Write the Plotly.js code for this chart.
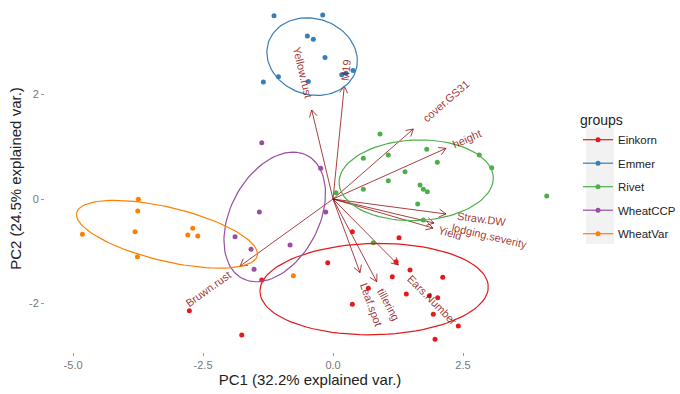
<!DOCTYPE html>
<html><head><meta charset="utf-8">
<script src="https://cdn.plot.ly/plotly-3.0.1.min.js"></script>
<style>html,body{margin:0;padding:0;background:#fff}</style>
</head><body><div id="chart" style="width:680px;height:394px"></div>
<script>
// ---- data ----
const groups = ['Einkorn','Emmer','Rivet','WheatCCP','WheatVar'];
const groupColors = ['#E41A1C','#377EB8','#4DAF4A','#984EA3','#FF7F00'];

const einkornPC1 = [-2.763,-1.756,-1.371,-0.102,0.371,1.269,1.212,1.481,1.140,2.110,0.679,1.410,1.852,2.013,0.371,1.929,2.410,1.962];
const einkornPC2 = [-2.140,-2.605,-1.552,-1.220,-0.626,-0.741,-1.201,-1.360,-1.489,-1.500,-1.711,-1.820,-1.852,-1.891,-2.017,-2.209,-2.433,-2.688];

const emmerPC1 = [-1.135,-0.198,-0.494,-0.379,-0.154,-1.340,-1.050,-0.475,0.167,0.250,0.385];
const emmerPC2 = [3.510,3.525,3.120,3.060,2.710,2.240,2.340,2.250,2.380,2.410,2.460];

const rivetPC1 = [0.904,0.583,1.063,1.802,2.006,2.813,3.052,1.385,1.063,0.583,1.673,1.737,1.813,1.629,4.110,0.058,1.737,0.775];
const rivetPC2 = [1.245,0.780,0.843,0.952,0.703,0.843,0.600,0.523,0.350,0.186,0.268,0.186,0.140,-0.096,0.057,0.120,-0.400,-0.837];

const wheatCCPPC1 = [-1.371,-0.237,-1.417,-0.140,-1.885,-1.577,-0.827,-1.519];
const wheatCCPPC2 = [1.079,0.588,-0.249,-0.249,-0.722,-0.964,-0.881,-1.347];

const wheatVarPC1 = [-3.744,-3.756,-4.821,-3.808,-2.698,-2.794,-2.602,-3.763,-0.763];
const wheatVarPC2 = [-0.006,-0.230,-0.676,-0.626,-0.561,-0.690,-0.709,-1.105,-1.469];

const variables = ['Yellow.rust','M19','cover.GS31','height','Straw.DW','lodging.severity','Yield','Ears.Number','tillering','Leaf.spot','Bruwn.rust'];
const loadingPC1 = [-0.410,0.217,1.544,2.173,2.173,1.942,1.923,1.256,0.840,0.519,-1.788];
const loadingPC2 = [1.705,2.165,1.341,0.971,-0.287,-0.460,-0.556,-1.264,-1.584,-1.410,-1.284];

const xTickVals = [-5,-2.5,0,2.5];
const xTickText = ['-5.0','-2.5','0.0','2.5'];
const yTickVals = [-2,0,2];
const yTickText = ['-2','0','2'];
const xTitle = 'PC1 (32.2% explained var.)';
const yTitle = 'PC2 (24.5% explained var.)';

// ---- layout geometry ----
const W = 680, H = 394;
const margin = {l:45, r:105, t:5, b:42};
const xRange = [-5.54, 4.654];
const yRange = [-2.93, 3.716];
const plotW = W - margin.l - margin.r, plotH = H - margin.t - margin.b;
const pxX = plotW / (xRange[1] - xRange[0]);
const pxY = plotH / (yRange[1] - yRange[0]);

const FONT = 'Liberation Sans, Arial, sans-serif';
const arrowColor = 'rgba(139,0,0,0.75)';
const labelColor = 'rgba(139,0,0,0.8)';

const pcs = [[einkornPC1,einkornPC2],[emmerPC1,emmerPC2],[rivetPC1,rivetPC2],[wheatCCPPC1,wheatCCPPC2],[wheatVarPC1,wheatVarPC2]];

const traces = [];

// arrows (open V heads like ggplot arrow())
const ax = [], ay = [];
const headPx = 8, headAng = Math.PI/6;
for (let i = 0; i < variables.length; i++) {
  const tx = loadingPC1[i], ty = loadingPC2[i];
  ax.push(0, tx, null); ay.push(0, ty, null);
  const sx = tx*pxX, sy = ty*pxY, L = Math.hypot(sx, sy);
  const ux = sx/L, uy = sy/L;
  const pts = [];
  for (const s of [1,-1]) {
    const c = Math.cos(s*headAng), sn = Math.sin(s*headAng);
    const rx = -(ux*c - uy*sn), ry = -(ux*sn + uy*c);
    pts.push([tx + rx*headPx/pxX, ty + ry*headPx/pxY]);
  }
  ax.push(pts[0][0], tx, pts[1][0], null);
  ay.push(pts[0][1], ty, pts[1][1], null);
}
traces.push({x:ax, y:ay, mode:'lines', line:{color:arrowColor, width:1}, showlegend:false, hoverinfo:'skip'});

// points per group (lines+markers so the legend key shows line and dot)
pcs.forEach((p, g) => {
  const xs = [], ys = [];
  p[0].forEach((v, i) => { xs.push(v, null); ys.push(p[1][i], null); });
  traces.push({x:xs, y:ys, mode:'lines+markers', connectgaps:false, name:groups[g],
    marker:{color:groupColors[g], size:5}, line:{color:groupColors[g], width:1.2},
    legendgroup:groups[g]});
});

// 68% normal ellipses, computed as ggbiplot does
const ed = Math.sqrt(-2*Math.log(1-0.68));
pcs.forEach((p, g) => {
  const n = p[0].length;
  const mx = p[0].reduce((a,b)=>a+b,0)/n, my = p[1].reduce((a,b)=>a+b,0)/n;
  let sxx=0, syy=0, sxy=0;
  for (let i=0;i<n;i++){ const dx=p[0][i]-mx, dy=p[1][i]-my; sxx+=dx*dx; syy+=dy*dy; sxy+=dx*dy; }
  sxx/=(n-1); syy/=(n-1); sxy/=(n-1);
  const a = Math.sqrt(sxx), b = sxy/a, c = Math.sqrt(syy - b*b);
  const ex=[], ey=[];
  for (let k=0;k<=100;k++){
    const t = -Math.PI + 2*Math.PI*k/100;
    const cx = Math.cos(t), cy = Math.sin(t);
    ex.push(mx + ed*(cx*a));
    ey.push(my + ed*(cx*b + cy*c));
  }
  traces.push({x:ex, y:ey, mode:'lines', line:{color:groupColors[g], width:1.2}, showlegend:false, hoverinfo:'skip', legendgroup:groups[g]});
});

// variable labels placed like ggbiplot (hjust -0.25 / 1.25 along the arrow)
const canvas = document.createElement('canvas');
const ctx = canvas.getContext('2d');
ctx.font = '11px ' + FONT;
const annotations = variables.map((name, i) => {
  const tx = loadingPC1[i], ty = loadingPC2[i];
  const sx = tx*pxX, sy = ty*pxY, L = Math.hypot(sx, sy);
  const ux = sx/L, uy = sy/L;
  const w = ctx.measureText(name).width;
  const off = 0.75*w;
  const ang = Math.atan(ty/tx)*180/Math.PI;
  return {x: tx + ux*off/pxX, y: ty + uy*off/pxY, xref:'x', yref:'y', text:name, showarrow:false,
    textangle: -ang, font:{family:FONT, size:11, color:labelColor}, xanchor:'center', yanchor:'middle'};
});

// faint grey legend key background (ggplot legend.key)
const px2paperX = px => (px - margin.l) / plotW;
const px2paperY = py => (H - margin.b - py) / plotH;
const shapes = [{type:'rect', xref:'paper', yref:'paper', layer:'below',
  x0:px2paperX(586), x1:px2paperX(614), y0:px2paperY(244), y1:px2paperY(128),
  fillcolor:'#F2F2F2', line:{width:0}}];

const layout = {
  width:W, height:H, margin:margin,
  paper_bgcolor:'#fff', plot_bgcolor:'rgba(0,0,0,0)',
  font:{family:FONT},
  xaxis:{range:xRange, tickvals:xTickVals, ticktext:xTickText, showgrid:false, zeroline:false,
    showline:false, ticks:'outside', ticklen:3, tickcolor:'#999', tickfont:{size:11, color:'#777'},
    title:{text:xTitle, font:{size:15, color:'#222'}, standoff:4}},
  yaxis:{range:yRange, tickvals:yTickVals, ticktext:yTickText, showgrid:false, zeroline:false,
    showline:false, ticks:'outside', ticklen:3, tickcolor:'#999', tickfont:{size:11, color:'#777'},
    title:{text:yTitle, font:{size:15, color:'#222'}, standoff:3}},
  legend:{xref:'container', yref:'container', x:578/W, xanchor:'left', y:1-107/H, yanchor:'top',
    title:{text:'groups', font:{size:14, color:'#222'}},
    font:{size:11.5, color:'#222'}, tracegroupgap:4.5, bgcolor:'rgba(0,0,0,0)', itemwidth:30},
  shapes:shapes,
  annotations:annotations,
  showlegend:true
};

Plotly.newPlot('chart', traces, layout, {staticPlot:true, displayModeBar:false});
</script>
</body></html>
